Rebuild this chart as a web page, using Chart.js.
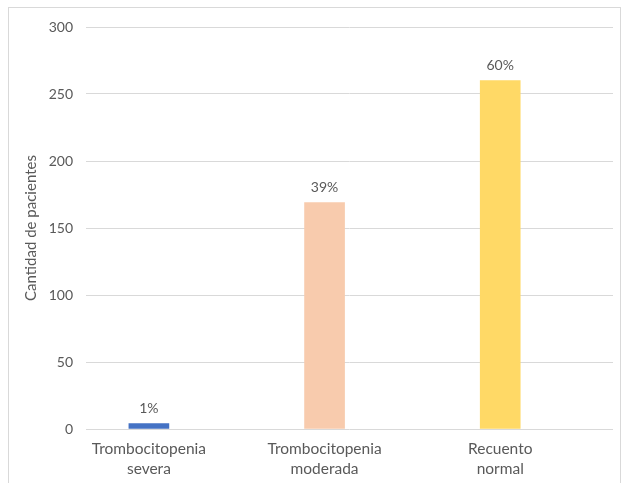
<!DOCTYPE html>
<html>
<head>
<meta charset="utf-8">
<script src="https://cdn.jsdelivr.net/npm/chart.js@4.4.1/dist/chart.umd.min.js"></script>
<style>
  html, body { margin: 0; padding: 0; background: #fff; }
  #wrap { position: relative; width: 625px; height: 483px; }
  #frame {
    position: absolute; left: 8px; top: 7px; width: 611px; height: 490px;
    border: 1px solid #d9d9d9; pointer-events: none;
  }
</style>
</head>
<body>
<div id="wrap">
  <canvas id="chart" width="625" height="483"></canvas>
  <div id="frame"></div>
</div>
<script>
// data
const categories = [['Trombocitopenia', 'severa'], ['Trombocitopenia', 'moderada'], ['Recuento', 'normal']];
const patients = [4, 169, 260];
const percentLabels = ['1%', '39%', '60%'];
const barColors = ['#4472C4', '#F8CBAD', '#FFD966'];
const yTicks = [0, 50, 100, 150, 200, 250, 300];

const textColor = '#595959';
const fontFamily = 'Lato, "Liberation Sans", sans-serif';

// percentage labels above each bar
const barLabels = {
  id: 'barLabels',
  afterDatasetsDraw(chart) {
    const ctx = chart.ctx;
    const meta = chart.getDatasetMeta(0);
    ctx.save();
    ctx.font = '14px ' + fontFamily;
    ctx.fillStyle = textColor;
    ctx.textAlign = 'center';
    ctx.textBaseline = 'middle';
    meta.data.forEach((bar, i) => {
      ctx.fillText(percentLabels[i], bar.x, bar.y - 15);
    });
    ctx.restore();
  }
};

new Chart(document.getElementById('chart'), {
  type: 'bar',
  data: {
    datasets: [{
      data: patients.map((v, i) => ({ x: i, y: v })),
      backgroundColor: barColors,
      barThickness: 40,
      borderWidth: 0
    }]
  },
  options: {
    responsive: false,
    animation: false,
    layout: { padding: { left: 0, right: 12, top: 27, bottom: 0 } },
    plugins: {
      legend: { display: false },
      tooltip: { enabled: false }
    },
    scales: {
      x: {
        type: 'linear',
        min: -0.358,
        max: 2.642,
        offset: false,
        grid: { display: false, offset: false },
        border: { display: false },
        afterBuildTicks: scale => {
          scale.ticks = categories.map((_, i) => ({ value: i }));
        },
        afterFit: scale => { scale.height = 54; },
        ticks: {
          autoSkip: false,
          maxRotation: 0,
          padding: 2,
          color: textColor,
          font: { family: fontFamily, size: 15.5, lineHeight: 1.3 },
          callback: value => categories[value]
        }
      },
      y: {
        min: 0,
        max: 300,
        afterBuildTicks: scale => {
          scale.ticks = yTicks.map(v => ({ value: v }));
        },
        afterFit: scale => { scale.width = 86; },
        grid: { color: '#d9d9d9', lineWidth: 1, drawTicks: false },
        border: { display: false },
        ticks: {
          padding: 13,
          color: textColor,
          font: { family: fontFamily, size: 14 }
        },
        title: {
          display: true,
          text: 'Cantidad de pacientes',
          color: textColor,
          padding: { top: 22, bottom: 0 },
          font: { family: fontFamily, size: 15 }
        }
      }
    }
  },
  plugins: [barLabels]
});
</script>
</body>
</html>
